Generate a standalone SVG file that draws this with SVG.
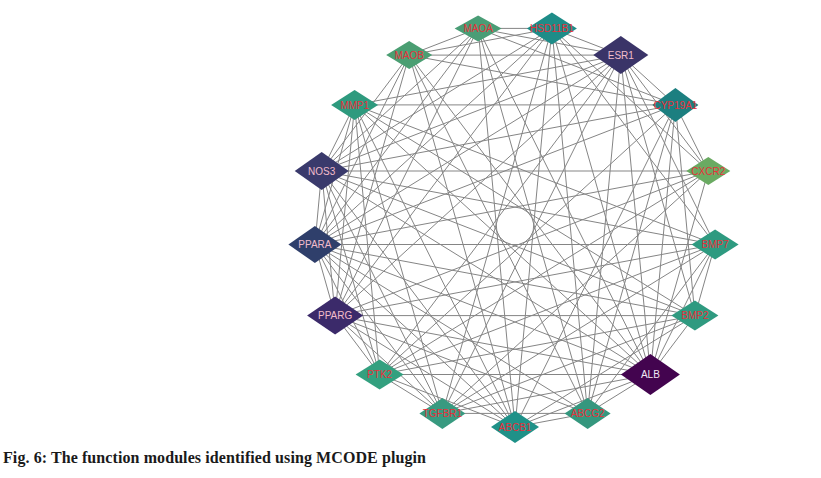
<svg xmlns="http://www.w3.org/2000/svg" width="821" height="478" viewBox="0 0 821 478">
<style>
.e{stroke:#858585;stroke-width:1;fill:none}
.n text{font-family:"Liberation Sans",Arial,sans-serif;font-size:10px;text-anchor:middle;fill:#e8303c}
.n text.p{fill:#f2bccb}
.n text.w{fill:#f0e8f4}
.cap{font-family:"Liberation Serif","Times New Roman",serif;font-size:16px;font-weight:bold;fill:#1a1a1a}
</style>
<rect width="821" height="478" fill="#ffffff"/>
<g id="edges">
<line class="e" x1="515" y1="427" x2="587.6" y2="413.4"/>
<line class="e" x1="515" y1="427" x2="650.4" y2="374.5"/>
<line class="e" x1="515" y1="427" x2="694.9" y2="315.6"/>
<line class="e" x1="515" y1="427" x2="675.4" y2="104.9"/>
<line class="e" x1="515" y1="427" x2="551.9" y2="28.4"/>
<line class="e" x1="515" y1="427" x2="478.1" y2="28.4"/>
<line class="e" x1="515" y1="427" x2="409.2" y2="55.1"/>
<line class="e" x1="515" y1="427" x2="354.6" y2="104.9"/>
<line class="e" x1="515" y1="427" x2="321.7" y2="171"/>
<line class="e" x1="515" y1="427" x2="314.9" y2="244.5"/>
<line class="e" x1="515" y1="427" x2="335.1" y2="315.6"/>
<line class="e" x1="515" y1="427" x2="379.6" y2="374.5"/>
<line class="e" x1="587.6" y1="413.4" x2="650.4" y2="374.5"/>
<line class="e" x1="587.6" y1="413.4" x2="715.1" y2="244.5"/>
<line class="e" x1="587.6" y1="413.4" x2="675.4" y2="104.9"/>
<line class="e" x1="587.6" y1="413.4" x2="620.8" y2="55.1"/>
<line class="e" x1="587.6" y1="413.4" x2="551.9" y2="28.4"/>
<line class="e" x1="587.6" y1="413.4" x2="478.1" y2="28.4"/>
<line class="e" x1="587.6" y1="413.4" x2="409.2" y2="55.1"/>
<line class="e" x1="587.6" y1="413.4" x2="314.9" y2="244.5"/>
<line class="e" x1="587.6" y1="413.4" x2="335.1" y2="315.6"/>
<line class="e" x1="587.6" y1="413.4" x2="442.4" y2="413.4"/>
<line class="e" x1="650.4" y1="374.5" x2="694.9" y2="315.6"/>
<line class="e" x1="650.4" y1="374.5" x2="715.1" y2="244.5"/>
<line class="e" x1="650.4" y1="374.5" x2="708.3" y2="171"/>
<line class="e" x1="650.4" y1="374.5" x2="675.4" y2="104.9"/>
<line class="e" x1="650.4" y1="374.5" x2="620.8" y2="55.1"/>
<line class="e" x1="650.4" y1="374.5" x2="551.9" y2="28.4"/>
<line class="e" x1="650.4" y1="374.5" x2="478.1" y2="28.4"/>
<line class="e" x1="650.4" y1="374.5" x2="409.2" y2="55.1"/>
<line class="e" x1="650.4" y1="374.5" x2="354.6" y2="104.9"/>
<line class="e" x1="650.4" y1="374.5" x2="321.7" y2="171"/>
<line class="e" x1="650.4" y1="374.5" x2="314.9" y2="244.5"/>
<line class="e" x1="650.4" y1="374.5" x2="335.1" y2="315.6"/>
<line class="e" x1="650.4" y1="374.5" x2="379.6" y2="374.5"/>
<line class="e" x1="650.4" y1="374.5" x2="442.4" y2="413.4"/>
<line class="e" x1="694.9" y1="315.6" x2="715.1" y2="244.5"/>
<line class="e" x1="694.9" y1="315.6" x2="675.4" y2="104.9"/>
<line class="e" x1="694.9" y1="315.6" x2="620.8" y2="55.1"/>
<line class="e" x1="694.9" y1="315.6" x2="354.6" y2="104.9"/>
<line class="e" x1="694.9" y1="315.6" x2="321.7" y2="171"/>
<line class="e" x1="694.9" y1="315.6" x2="314.9" y2="244.5"/>
<line class="e" x1="694.9" y1="315.6" x2="335.1" y2="315.6"/>
<line class="e" x1="694.9" y1="315.6" x2="379.6" y2="374.5"/>
<line class="e" x1="694.9" y1="315.6" x2="442.4" y2="413.4"/>
<line class="e" x1="715.1" y1="244.5" x2="620.8" y2="55.1"/>
<line class="e" x1="715.1" y1="244.5" x2="551.9" y2="28.4"/>
<line class="e" x1="715.1" y1="244.5" x2="354.6" y2="104.9"/>
<line class="e" x1="715.1" y1="244.5" x2="321.7" y2="171"/>
<line class="e" x1="715.1" y1="244.5" x2="314.9" y2="244.5"/>
<line class="e" x1="715.1" y1="244.5" x2="335.1" y2="315.6"/>
<line class="e" x1="715.1" y1="244.5" x2="379.6" y2="374.5"/>
<line class="e" x1="715.1" y1="244.5" x2="442.4" y2="413.4"/>
<line class="e" x1="708.3" y1="171" x2="675.4" y2="104.9"/>
<line class="e" x1="708.3" y1="171" x2="620.8" y2="55.1"/>
<line class="e" x1="708.3" y1="171" x2="551.9" y2="28.4"/>
<line class="e" x1="708.3" y1="171" x2="321.7" y2="171"/>
<line class="e" x1="708.3" y1="171" x2="314.9" y2="244.5"/>
<line class="e" x1="708.3" y1="171" x2="335.1" y2="315.6"/>
<line class="e" x1="708.3" y1="171" x2="379.6" y2="374.5"/>
<line class="e" x1="708.3" y1="171" x2="442.4" y2="413.4"/>
<line class="e" x1="675.4" y1="104.9" x2="620.8" y2="55.1"/>
<line class="e" x1="675.4" y1="104.9" x2="478.1" y2="28.4"/>
<line class="e" x1="675.4" y1="104.9" x2="409.2" y2="55.1"/>
<line class="e" x1="675.4" y1="104.9" x2="354.6" y2="104.9"/>
<line class="e" x1="675.4" y1="104.9" x2="321.7" y2="171"/>
<line class="e" x1="675.4" y1="104.9" x2="314.9" y2="244.5"/>
<line class="e" x1="675.4" y1="104.9" x2="379.6" y2="374.5"/>
<line class="e" x1="620.8" y1="55.1" x2="551.9" y2="28.4"/>
<line class="e" x1="620.8" y1="55.1" x2="478.1" y2="28.4"/>
<line class="e" x1="620.8" y1="55.1" x2="409.2" y2="55.1"/>
<line class="e" x1="620.8" y1="55.1" x2="354.6" y2="104.9"/>
<line class="e" x1="620.8" y1="55.1" x2="321.7" y2="171"/>
<line class="e" x1="620.8" y1="55.1" x2="314.9" y2="244.5"/>
<line class="e" x1="620.8" y1="55.1" x2="335.1" y2="315.6"/>
<line class="e" x1="620.8" y1="55.1" x2="379.6" y2="374.5"/>
<line class="e" x1="620.8" y1="55.1" x2="442.4" y2="413.4"/>
<line class="e" x1="551.9" y1="28.4" x2="478.1" y2="28.4"/>
<line class="e" x1="551.9" y1="28.4" x2="409.2" y2="55.1"/>
<line class="e" x1="551.9" y1="28.4" x2="321.7" y2="171"/>
<line class="e" x1="551.9" y1="28.4" x2="314.9" y2="244.5"/>
<line class="e" x1="551.9" y1="28.4" x2="335.1" y2="315.6"/>
<line class="e" x1="551.9" y1="28.4" x2="442.4" y2="413.4"/>
<line class="e" x1="478.1" y1="28.4" x2="409.2" y2="55.1"/>
<line class="e" x1="478.1" y1="28.4" x2="321.7" y2="171"/>
<line class="e" x1="478.1" y1="28.4" x2="314.9" y2="244.5"/>
<line class="e" x1="478.1" y1="28.4" x2="335.1" y2="315.6"/>
<line class="e" x1="409.2" y1="55.1" x2="321.7" y2="171"/>
<line class="e" x1="409.2" y1="55.1" x2="314.9" y2="244.5"/>
<line class="e" x1="409.2" y1="55.1" x2="335.1" y2="315.6"/>
<line class="e" x1="354.6" y1="104.9" x2="321.7" y2="171"/>
<line class="e" x1="354.6" y1="104.9" x2="314.9" y2="244.5"/>
<line class="e" x1="354.6" y1="104.9" x2="335.1" y2="315.6"/>
<line class="e" x1="354.6" y1="104.9" x2="379.6" y2="374.5"/>
<line class="e" x1="354.6" y1="104.9" x2="442.4" y2="413.4"/>
<line class="e" x1="321.7" y1="171" x2="314.9" y2="244.5"/>
<line class="e" x1="321.7" y1="171" x2="335.1" y2="315.6"/>
<line class="e" x1="321.7" y1="171" x2="379.6" y2="374.5"/>
<line class="e" x1="321.7" y1="171" x2="442.4" y2="413.4"/>
<line class="e" x1="314.9" y1="244.5" x2="335.1" y2="315.6"/>
<line class="e" x1="314.9" y1="244.5" x2="379.6" y2="374.5"/>
<line class="e" x1="314.9" y1="244.5" x2="442.4" y2="413.4"/>
<line class="e" x1="335.1" y1="315.6" x2="379.6" y2="374.5"/>
<line class="e" x1="335.1" y1="315.6" x2="442.4" y2="413.4"/>
<line class="e" x1="379.6" y1="374.5" x2="442.4" y2="413.4"/>
</g>
<g id="node-ABCB1" class="n" transform="translate(515,427)"><polygon points="0,-16 24,0 0,16 -24,0" fill="#1f9188"/><text y="3.6">ABCB1</text></g>
<g id="node-ABCG2" class="n" transform="translate(587.6,413.4)"><polygon points="0,-15.5 23,0 0,15.5 -23,0" fill="#35977e"/><text y="3.6">ABCG2</text></g>
<g id="node-ALB" class="n" transform="translate(650.4,374.5)"><polygon points="0,-20.5 29.5,0 0,20.5 -29.5,0" fill="#43044f"/><text class="w" y="3.6">ALB</text></g>
<g id="node-BMP2" class="n" transform="translate(694.9,315.6)"><polygon points="0,-15 23.5,0 0,15 -23.5,0" fill="#2f9a80"/><text y="3.6">BMP2</text></g>
<g id="node-BMP7" class="n" transform="translate(715.1,244.5)"><polygon points="0,-15 23.5,0 0,15 -23.5,0" fill="#2e9a80"/><text y="3.6">BMP7</text></g>
<g id="node-CXCR2" class="n" transform="translate(708.3,171)"><polygon points="0,-14 22,0 0,14 -22,0" fill="#6aaa62"/><text y="3.6">CXCR2</text></g>
<g id="node-CYP19A1" class="n" transform="translate(675.4,104.9)"><polygon points="0,-17 23,0 0,17 -23,0" fill="#1c7f80"/><text y="3.6">CYP19A1</text></g>
<g id="node-ESR1" class="n" transform="translate(620.8,55.1)"><polygon points="0,-19 27.5,0 0,19 -27.5,0" fill="#3a3468"/><text class="p" y="3.6">ESR1</text></g>
<g id="node-HSD11B1" class="n" transform="translate(551.9,28.4)"><polygon points="0,-16 25,0 0,16 -25,0" fill="#1e8c88"/><text y="3.6">HSD11B1</text></g>
<g id="node-MAOA" class="n" transform="translate(478.1,28.4)"><polygon points="0,-13 23.5,0 0,13 -23.5,0" fill="#4a9d76"/><text y="3.6">MAOA</text></g>
<g id="node-MAOB" class="n" transform="translate(409.2,55.1)"><polygon points="0,-14 23,0 0,14 -23,0" fill="#4a9e72"/><text y="3.6">MAOB</text></g>
<g id="node-MMP1" class="n" transform="translate(354.6,104.9)"><polygon points="0,-15 23.5,0 0,15 -23.5,0" fill="#2e9a7e"/><text y="3.6">MMP1</text></g>
<g id="node-NOS3" class="n" transform="translate(321.7,171)"><polygon points="0,-19 27,0 0,19 -27,0" fill="#3a3a6c"/><text class="p" y="3.6">NOS3</text></g>
<g id="node-PPARA" class="n" transform="translate(314.9,244.5)"><polygon points="0,-18.5 26.5,0 0,18.5 -26.5,0" fill="#2f3f6b"/><text class="p" y="3.6">PPARA</text></g>
<g id="node-PPARG" class="n" transform="translate(335.1,315.6)"><polygon points="0,-19 28,0 0,19 -28,0" fill="#3b2a6a"/><text class="p" y="3.6">PPARG</text></g>
<g id="node-PTK2" class="n" transform="translate(379.6,374.5)"><polygon points="0,-15 24,0 0,15 -24,0" fill="#33a07f"/><text y="3.6">PTK2</text></g>
<g id="node-TGFBR1" class="n" transform="translate(442.4,413.4)"><polygon points="0,-15.5 23,0 0,15.5 -23,0" fill="#389a80"/><text y="3.6">TGFBR1</text></g>
<text class="cap" x="3" y="463" textLength="423" lengthAdjust="spacing">Fig. 6: The function modules identified using MCODE plugin</text>
</svg>
